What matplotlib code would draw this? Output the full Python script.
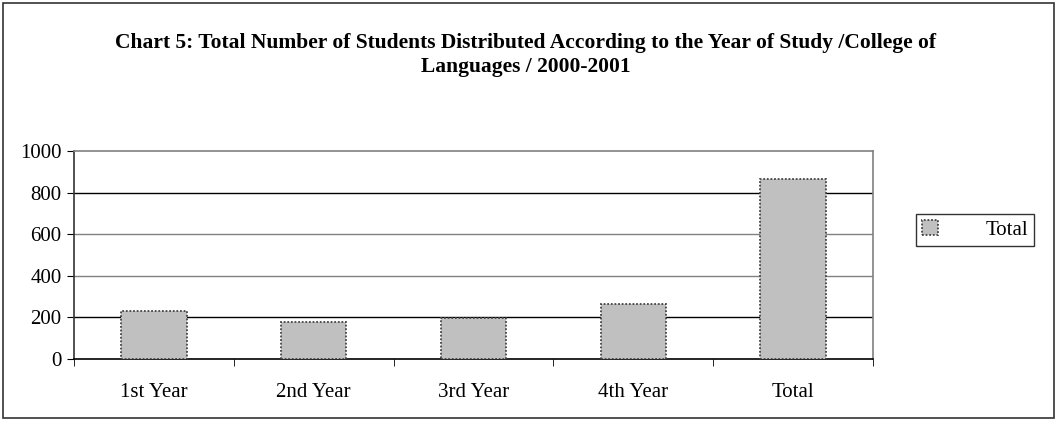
import matplotlib.pyplot as plt
from matplotlib.patches import Rectangle

# chart data
categories = ['1st Year', '2nd Year', '3rd Year', '4th Year', 'Total']
totals = [231, 179, 195, 264, 866]
y_ticks = [0, 200, 400, 600, 800, 1000]
title = ('Chart 5: Total Number of Students Distributed According to the Year of Study /College of\n'
         'Languages / 2000-2001')

plt.rcParams['font.family'] = ['Liberation Serif', 'DejaVu Serif']

W, H = 1057, 421
fig = plt.figure(figsize=(W / 100, H / 100), dpi=100)
ax = fig.add_axes([74 / W, 1 - 359 / H, (873 - 74) / W, (359 - 151) / H])

# outer frame around the chart
fig.patches.append(Rectangle((3 / W, 3 / H), 1 - 6 / W, 1 - 6 / H, transform=fig.transFigure,
                             fill=False, edgecolor='#333333', lw=1.2))

x = range(len(categories))
ax.bar(x, totals, width=0.41, color='#c0c0c0', edgecolor='#444444', linestyle=(0, (1, 1)),
       lw=1.3, label='Total', zorder=3)

ax.set_xlim(-0.5, len(categories) - 0.5)
ax.set_ylim(0, 1000)
ax.set_yticks(y_ticks)
ax.set_yticklabels([str(v) for v in y_ticks], fontsize=15)
ax.set_xticks(x)
ax.set_xticklabels(categories, fontsize=15)
ax.set_xticks([i - 0.5 for i in range(len(categories) + 1)], minor=True)
ax.tick_params(axis='x', which='major', length=0, pad=17)
ax.tick_params(axis='x', which='minor', length=5, direction='out', color='black')
ax.tick_params(axis='y', length=5, direction='out', pad=4)

grid_colors = ['black', '#808080', '#808080', 'black']
for v, c in zip(y_ticks[1:-1], grid_colors):
    ax.axhline(v, color=c, lw=1, zorder=1)

ax.spines['left'].set_color('#333333')
ax.spines['bottom'].set_color('black')
ax.spines['top'].set_color('#808080')
ax.spines['right'].set_color('#808080')
for s in ax.spines.values():
    s.set_linewidth(1.2)

fig.text(0.497, 1 - 55 / H, title, ha='center', va='center', fontsize=15.5, fontweight='bold',
         linespacing=1.3)

leg = ax.legend(loc='center', bbox_to_anchor=(975 / W, 1 - 230 / H), bbox_transform=fig.transFigure,
                fontsize=15, frameon=True, fancybox=False, edgecolor='black', handlelength=0.75,
                handleheight=0.75, handletextpad=2.3, borderpad=0.3, borderaxespad=0)
leg.get_frame().set_linewidth(1.0)

fig.savefig('out.png', dpi=100)
